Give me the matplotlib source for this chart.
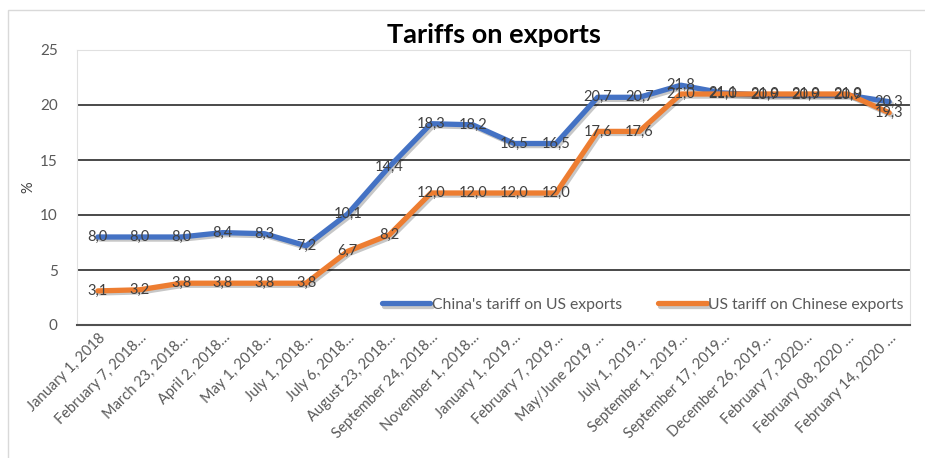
import matplotlib.pyplot as plt
import matplotlib.patheffects as pe
from matplotlib.patches import Rectangle

plt.rcParams['font.family'] = ['Lato', 'DejaVu Sans']

dates = ["January 1, 2018", "February 7, 2018…", "March 23, 2018…", "April 2, 2018…",
         "May 1, 2018…", "July 1, 2018…", "July 6, 2018…", "August 23, 2018…",
         "September 24, 2018…", "November 1, 2018…", "January 1, 2019…",
         "February 7, 2019…", "May/June 2019 …", "July 1, 2019…", "September 1, 2019…",
         "September 17, 2019…", "December 26, 2019…", "February 7, 2020…",
         "February 08, 2020 …", "February 14, 2020 …"]
china = [8.0, 8.0, 8.0, 8.4, 8.3, 7.2, 10.1, 14.4, 18.3, 18.2, 16.5, 16.5,
         20.7, 20.7, 21.8, 21.1, 20.9, 20.9, 20.9, 20.3]
us = [3.1, 3.2, 3.8, 3.8, 3.8, 3.8, 6.7, 8.2, 12.0, 12.0, 12.0, 12.0,
      17.6, 17.6, 21.0, 21.0, 21.0, 21.0, 21.0, 19.3]

blue = '#4472C4'
orange = '#ED7D31'
grey_txt = '#595959'

fig = plt.figure(figsize=(9.25, 4.58), dpi=100)
ax = fig.add_axes([77/925, 133/458, 833/925, 275/458])

# outer chart frame
fig.patches.append(Rectangle((8/925, -0.1), 1.2, 1.1 - 10/458, transform=fig.transFigure,
                             fill=False, edgecolor='#d9d9d9', lw=1))

x = list(range(len(dates)))
shadow = [pe.SimpleLineShadow(offset=(1.5, -1.5), shadow_color='#000000', alpha=0.22),
          pe.Normal()]
ax.plot(x, china, color=blue, lw=3.8, solid_capstyle='round', path_effects=shadow,
        label="China's tariff on US exports", zorder=3)
ax.plot(x, us, color=orange, lw=3.8, solid_capstyle='round', path_effects=shadow,
        label="US tariff on Chinese exports", zorder=4)

for xi, v in zip(x, china):
    ax.text(xi, v, f"{v:.1f}".replace('.', ','), ha='center', va='center',
            fontsize=10.5, color='#404040', zorder=5)
for xi, v in zip(x, us):
    ax.text(xi, v, f"{v:.1f}".replace('.', ','), ha='center', va='center',
            fontsize=10.5, color='#404040', zorder=5)

ax.set_xlim(-0.5, len(dates) - 0.5)
ax.set_ylim(0, 25)
ax.set_yticks([0, 5, 10, 15, 20, 25])
for g in [5, 10, 15, 20]:
    ax.axhline(g, color='#3a3a3a', lw=1.3, zorder=1)

ax.set_xticks(x)
ax.set_xticklabels(dates, rotation=45, ha='right', rotation_mode='anchor',
                   fontsize=10.5, color=grey_txt)
ax.tick_params(axis='x', length=0, pad=4)
ax.tick_params(axis='y', length=0, pad=14, labelsize=11, labelcolor=grey_txt)

for s in ['left', 'top', 'right']:
    ax.spines[s].set_color('#e0e0e0')
    ax.spines[s].set_linewidth(0.8)
ax.spines['bottom'].set_color('#505050')
ax.spines['bottom'].set_linewidth(1.5)

ax.set_ylabel('%', fontsize=10.5, color='#404040', labelpad=3)
ax.set_title('Tariffs on exports', fontsize=19.5, fontweight='bold', color='#000000', pad=5)

ax.legend(loc='center', bbox_to_anchor=(0.679, 0.073), ncol=2, frameon=False,
          fontsize=11.3, handlelength=3.1, handletextpad=0.1, columnspacing=2.3,
          labelcolor=grey_txt)

fig.savefig('out.png', dpi=100)
